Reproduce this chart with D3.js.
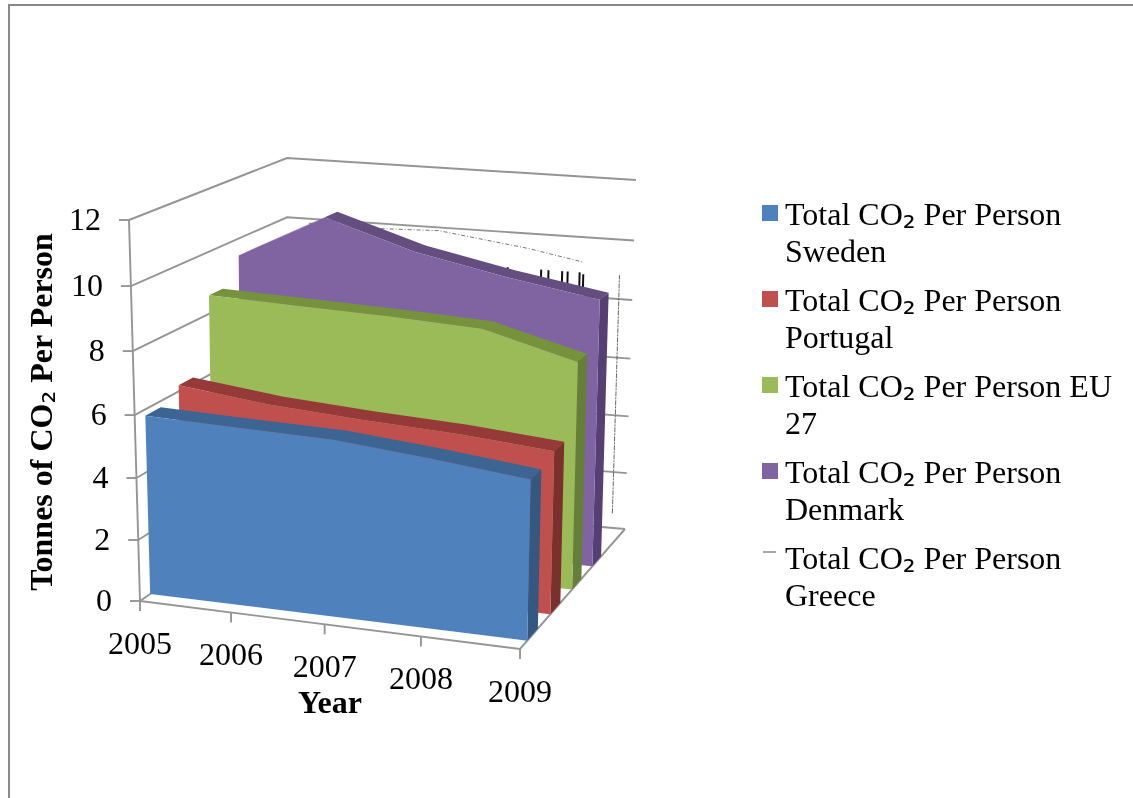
<!DOCTYPE html>
<html><head><meta charset="utf-8">
<script src="https://cdn.jsdelivr.net/npm/d3@7"></script>
<style>html,body{margin:0;padding:0;background:#fff;overflow:hidden}
svg{display:block;filter:blur(.35px)}
text{font-family:"Liberation Serif",serif;fill:#000}
.sub{font-family:"DejaVu Sans",sans-serif;font-weight:normal}</style></head>
<body><svg id="c" width="1133" height="798"></svg>
<script>
const years=[2005,2006,2007,2008,2009];
const valueTicks=[0,2,4,6,8,10,12];
const seriesNames=["Sweden","Portugal","EU 27","Denmark","Greece"];
const sweden=[5.8,5.72,5.65,5.38,5.05];
const portugal=[6.2,5.85,5.65,5.5,5.25];
const eu27=[8.6,8.5,8.4,8.25,7.45];
const denmark=[9.45,10.9,10.0,9.4,8.9];
const solidSeries=[sweden,portugal,eu27,denmark];
const faceColors=["#4F81BD","#C0504D","#9BBB59","#8064A2"];
const topColors=["#3C6594","#953A38","#76923C","#644E80"];
const sideColors=["#34587F","#7C302E","#667F38","#563F74"];
const greeceTrace=[[2005.5,10.2],[2006,10.15],[2007,10.25],[2008,9.87],[2008.6,9.55]];
const greeceDrop=[1.1,9.2];
const greeceSpecks=[[2007.78,9,9.2],[2008.15,8.75,9.2],[2008.23,8.7,9.2],[2008.38,8.65,9.2],[2008.44,8.6,9.2],[2008.57,8.55,9.2],[2008.61,8.5,9.15]];
const legendLabels=[["Total CO₂ Per Person","Sweden"],["Total CO₂ Per Person","Portugal"],["Total CO₂ Per Person EU","27"],["Total CO₂ Per Person","Denmark"],["Total CO₂ Per Person","Greece"]];

const svg=d3.select("#c");
const warp=k=>t=>t/(t+k*(1-t));
const uScale=d3.scaleLinear().domain([2005,2009]).range([0,1]);
const vScale=d3.scaleLinear().domain([0,12]).range([0,1]);
const band=d3.scaleBand().domain(seriesNames).range([0,1]).paddingInner(.55).paddingOuter(.3);
const wu=warp(1.058),wv=warp(1.049),ww=warp(.85);
const box={fl0:[140,601],fr0:[520,649],fl1:[129,220],fr1:[528,252],bl0:[287,500],br0:[625,529],bl1:[287,158],br1:[636,180]};
const mix=(a,b,t)=>[a[0]+(b[0]-a[0])*t,a[1]+(b[1]-a[1])*t];
function project(year,value,depth){
  const u=wu(uScale(year)),v=wv(vScale(value)),w=depth;
  const f0=mix(box.fl0,box.fr0,u),f1=mix(box.fl1,box.fr1,u),b0=mix(box.bl0,box.br0,u),b1=mix(box.bl1,box.br1,u);
  return mix(mix(f0,f1,v),mix(b0,b1,v),w);
}
const front=n=>ww(band(n)),back=n=>ww(band(n)+band.bandwidth());
const line=d3.line();
const gray="#959595";
svg.append("path").attr("d","M9,798V5H1133").attr("fill","none").attr("stroke","#888").attr("stroke-width",2);
const walls=svg.append("g").attr("fill","none").attr("stroke",gray).attr("stroke-width",1.9);
valueTicks.forEach(t=>{
  walls.append("path").attr("d",line([project(2005,t,0),project(2005,t,1),project(2009,t,1)]));
  const p=project(2005,t,0);
  walls.append("path").attr("d",line([[p[0]-10,p[1]],p]));
});
walls.append("path").attr("d",line([project(2005,0,0),project(2005,12,0)]));
walls.append("path").attr("d",line([project(2005,0,0),project(2009,0,0),project(2009,0,1)]));
years.forEach(y=>{const p=project(y,0,0);walls.append("path").attr("d",line([p,[p[0],p[1]+10]]));});
const gd=front("Greece");
const gr=svg.append("g").attr("fill","none").attr("stroke","#555");
gr.append("path").attr("d",line(greeceTrace.map(d=>project(d[0],d[1],gd)))).attr("stroke-width",.8).attr("stroke-dasharray","4 2 1 2");
gr.append("path").attr("d",line(greeceDrop.map(v=>project(2009,v,gd)))).attr("stroke-width",.9).attr("stroke-dasharray","5 1 2 1");
greeceSpecks.forEach(s=>gr.append("path").attr("d",line([project(s[0],s[1],gd),project(s[0],s[2],gd)])).attr("stroke","#111").attr("stroke-width",2));
d3.range(solidSeries.length-1,-1,-1).forEach(i=>{
  const vals=solidSeries[i],n=seriesNames[i],zf=front(n),zb=back(n);
  const g=svg.append("g");
  const fTop=years.map((y,j)=>project(y,vals[j],zf)),bTop=years.map((y,j)=>project(y,vals[j],zb));
  g.append("path").attr("d",line(fTop.concat(bTop.slice().reverse()))+"Z").attr("fill",topColors[i]);
  g.append("path").attr("d",line([project(2009,0,zf),project(2009,0,zb),project(2009,vals[4],zb),project(2009,vals[4],zf)])+"Z").attr("fill",sideColors[i]);
  g.append("path").attr("d",line([project(2005,0,zf)].concat(fTop,[project(2009,0,zf)]))+"Z").attr("fill",faceColors[i]);
});
function addText(sel,s){
  let after=false;
  s.split(/(₂)/).forEach(p=>{ if(!p) return; const t=sel.append("tspan").text(p);
    if(p==="₂"){ t.attr("class","sub").attr("dy",3); after=true; }
    else if(after){ t.attr("dy",-3); after=false; } });
  return sel;
}
const fs=32;
valueTicks.forEach(t=>{const p=project(2005,t,0);
  svg.append("text").attr("x",p[0]-28).attr("y",p[1]+10).attr("text-anchor","end").attr("font-size",fs).text(t);});
years.forEach(y=>{const p=project(y,0,0);
  svg.append("text").attr("x",p[0]).attr("y",p[1]+53).attr("text-anchor","middle").attr("font-size",fs).text(y);});
addText(svg.append("text").attr("transform","translate(52,412) rotate(-90)").attr("text-anchor","middle").attr("font-size",fs).attr("font-weight","bold"),"Tonnes of CO₂ Per Person");
svg.append("text").attr("x",330).attr("y",713).attr("text-anchor","middle").attr("font-size",fs).attr("font-weight","bold").text("Year");
const legendY=d3.scaleLinear().domain([0,4]).range([225,569]);
legendLabels.forEach((l,i)=>{
  const y=legendY(i);
  if(i<4) svg.append("rect").attr("x",762).attr("y",y-20).attr("width",16).attr("height",16).attr("fill",faceColors[i]);
  else svg.append("rect").attr("x",763).attr("y",y-18).attr("width",13).attr("height",2).attr("fill","#a8a8a8");
  l.forEach((s,j)=>addText(svg.append("text").attr("x",785).attr("y",y+j*37).attr("font-size",fs),s));
});
</script></body></html>
